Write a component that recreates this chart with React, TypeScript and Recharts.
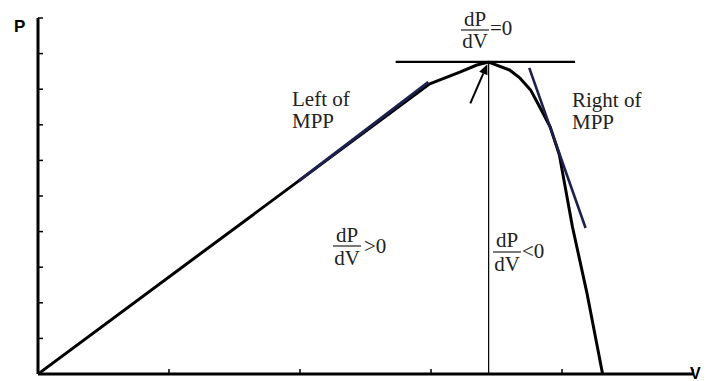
import { Line, LineChart, ReferenceLine, XAxis, YAxis } from "recharts";

// P–V curve of a PV module (voltage, power in arbitrary units)
const voltage = [0, 2.99, 3.22, 3.35, 3.44, 3.6, 3.68, 3.76, 3.83, 3.91, 3.98, 4.08, 4.19, 4.31];
const power = [0, 8.15, 8.48, 8.68, 8.76, 8.54, 8.31, 7.98, 7.5, 6.94, 6.15, 4.13, 2.28, 0];

const vTicks = [0, 1, 2, 3, 4, 5];
const pTicks = [0, 1, 2, 3, 4, 5, 6, 7, 8, 9, 10];

// tangent segments and the MPP markers, in (V, P)
const leftTangent = [{ x: 1.99, y: 5.42 }, { x: 2.98, y: 8.2 }];
const rightTangent = [{ x: 3.75, y: 8.6 }, { x: 4.18, y: 4.1 }];
const peakTangent = [{ x: 2.73, y: 8.77 }, { x: 4.1, y: 8.77 }];
const mppDrop = [{ x: 3.44, y: 0 }, { x: 3.44, y: 8.76 }];
const mppArrow = [{ x: 3.3, y: 7.6 }, { x: 3.43, y: 8.7 }];

const curve = voltage.map((v, i) => ({ v, p: power[i] }));

const W = 706;
const H = 381;
const NAVY = "#1d1f4d";
const serif = "'Liberation Serif', 'Times New Roman', serif";

const blank = () => "";

function ArrowShape(props: any) {
  const { x1, y1, x2, y2 } = props;
  const a = Math.atan2(y2 - y1, x2 - x1);
  const len = 10;
  const w = 4.5;
  const bx = x2 - len * Math.cos(a);
  const by = y2 - len * Math.sin(a);
  const px = -Math.sin(a) * w;
  const py = Math.cos(a) * w;
  return (
    <g>
      <line x1={x1} y1={y1} x2={bx} y2={by} stroke="#000" strokeWidth={2} />
      <polygon points={`${x2},${y2} ${bx + px},${by + py} ${bx - px},${by - py}`} fill="#000" />
    </g>
  );
}

function Frac({ cx, top, bar, bottom, tail, tailX, tailY }: any) {
  return (
    <g>
      <text x={cx} y={top} textAnchor="middle">dP</text>
      <line x1={cx - 14} x2={cx + 14} y1={bar} y2={bar} stroke="#222" strokeWidth={1.2} />
      <text x={cx} y={bottom} textAnchor="middle">dV</text>
      <text x={tailX} y={tailY}>{tail}</text>
    </g>
  );
}

export default function App() {
  return (
    <div style={{ position: "fixed", left: 0, top: 0, width: W, height: H, background: "#fff" }}>
      <LineChart width={W} height={H} margin={{ top: 18, right: 13, left: 28, bottom: 0 }}>
        <XAxis
          type="number"
          dataKey="v"
          domain={[0, 5]}
          ticks={vTicks}
          height={7}
          tickFormatter={blank}
          tickSize={-5}
          tickLine={{ stroke: "#000", strokeWidth: 1.5 }}
          axisLine={{ stroke: "#000", strokeWidth: 3 }}
          allowDataOverflow
        />
        <YAxis
          type="number"
          domain={[0, 10]}
          ticks={pTicks}
          width={10}
          tickFormatter={blank}
          tickSize={-5}
          tickLine={{ stroke: "#000", strokeWidth: 1.5 }}
          axisLine={{ stroke: "#000", strokeWidth: 3 }}
          allowDataOverflow
        />
        <ReferenceLine segment={peakTangent} stroke="#000" strokeWidth={2.2} />
        <ReferenceLine segment={mppDrop} stroke="#000" strokeWidth={1.2} />
        <ReferenceLine segment={mppArrow} shape={ArrowShape} />
        <Line
          data={curve}
          dataKey="p"
          type="linear"
          stroke="#000"
          strokeWidth={3}
          strokeLinejoin="round"
          dot={false}
          isAnimationActive={false}
        />
        <ReferenceLine segment={leftTangent} stroke={NAVY} strokeWidth={3} />
        <ReferenceLine segment={rightTangent} stroke={NAVY} strokeWidth={2.6} />
      </LineChart>
      <svg
        width={W}
        height={H}
        style={{ position: "absolute", left: 0, top: 0, pointerEvents: "none" }}
      >
        <g fontFamily="'Liberation Sans', Arial, sans-serif" fontWeight="bold" fontSize={16} fill="#000">
          <text x={14} y={32} fontSize={17}>P</text>
          <text x={690} y={379}>V</text>
        </g>
        <g fontFamily={serif} fontSize={21} fill="#222">
          <text x={292} y={106}>Left of</text>
          <text x={292} y={128}>MPP</text>
          <text x={572} y={107}>Right of</text>
          <text x={572} y={129}>MPP</text>
          <Frac cx={475} top={26} bar={30} bottom={48} tail="=0" tailX={490} tailY={35} />
          <Frac cx={347} top={242} bar={246} bottom={265} tail=">0" tailX={364} tailY={253} />
          <Frac cx={507} top={247} bar={252} bottom={271} tail="<0" tailX={522} tailY={258} />
        </g>
      </svg>
    </div>
  );
}
